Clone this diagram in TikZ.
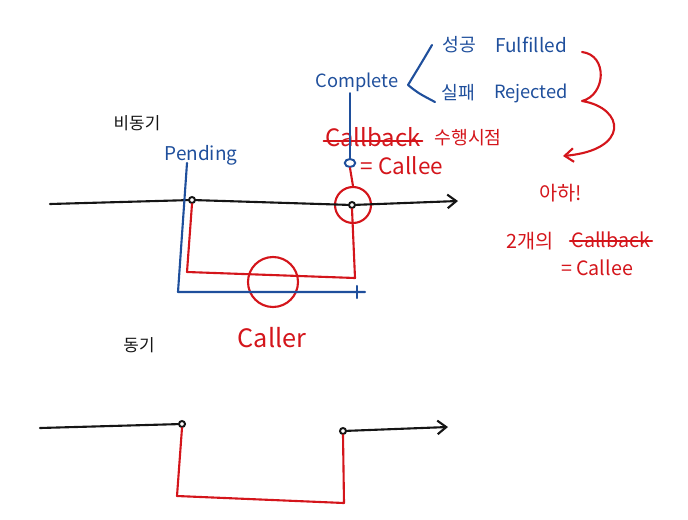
\documentclass[tikz,border=0pt]{standalone}
\usepackage{fontspec}
\setmainfont{Noto Sans CJK KR}
\usetikzlibrary{arrows.meta,positioning,shapes.geometric}
\definecolor{penblue}{HTML}{1F4F9C}
\definecolor{penred}{HTML}{D4151B}
\definecolor{penink}{HTML}{151515}
\tikzset{
  pen/.style={line width=1.5pt, line cap=round, line join=round},
  ink/.style={pen, draw=penink},
  bpen/.style={pen, draw=penblue},
  rpen/.style={pen, draw=penred},
  arr/.style={-{Straight Barb[length=2.2mm, width=3.4mm]}},
  fs/.style={font=\fontsize{#1}{#1}\selectfont, inner sep=1pt},
  knot/.style={circle, draw=penink, line width=1.4pt, inner sep=0pt, minimum size=1.5mm, fill=white},
  ring/.style={circle, draw=penred, line width=1.5pt, inner sep=0pt},
}
\begin{document}
\begin{tikzpicture}[x=0.25mm, y=-0.25mm]
    \useasboundingbox (0,0) rectangle (688,519);
    % labels
    \node[fs=12, text=penink] (async) at (137,123) {비동기};
    \node[fs=12, text=penink] (sync) at (139,345) {동기};
    \node[fs=13.5, text=penblue] (pend) at (201,155) {Pending};
    \node[fs=13, text=penblue] (cmp) at (357,82) {Complete};
    \node[fs=13, text=penblue] (okk) at (459,45) {성공};
    \node[fs=13.5, text=penblue] (ful) at (531,45) {Fulfilled};
    \node[fs=13, text=penblue] (ngk) at (458,93) {실패};
    \node[fs=13, text=penblue] (rej) at (531,93) {Rejected};
    \node[fs=17, text=penred] (cbk) at (373,137) {Callback};
    \node[fs=13, text=penred] (when) at (468,138) {수행시점};
    \node[fs=16, text=penred] (cle) at (402,166) {= Callee};
    \node[fs=18, text=penred] (clr) at (272,338) {Caller};
    \node[fs=14, text=penred] (aha) at (561,193) {아하!};
    \node[fs=14, text=penred] (two) at (530,241) {2개의};
    \node[fs=14, text=penred] (cbk2) at (611,240) {Callback};
    \node[fs=14, text=penred] (cle2) at (597,268) {= Callee};
    \draw[rpen] ([yshift=-0.9mm]cbk.west) -- ([yshift=-0.9mm]cbk.east);
    \draw[rpen] ([yshift=-0.2mm]cbk2.west) -- ([yshift=-0.2mm]cbk2.east);
    % async timeline
    \coordinate (a0) at (50,204);
    \coordinate (a1) at (458,201);
    \node[knot] (pa) at (192,200) {};
    \node[knot] (pb) at (352,205) {};
    \node[ring, minimum size=9mm] (hit) at (353,205) {};
    \node[ring, minimum size=12.5mm] (mid) at (273,282) {};
    \node[ellipse, draw=penblue, line width=1.4pt, minimum width=2.6mm, minimum height=2mm, inner sep=0pt] (cbd) at (350,163) {};
    \draw[ink, arr] (a0) -- (pa) -- (pb) -- (a1);
    \coordinate (b0) at (187,163);
    \coordinate (b1) at (178,292);
    \coordinate (b2) at (365,292);
    \draw[bpen] (b0) -- (b1) -- (b2);
    \draw[bpen] (357,286) -- (357,298);
    \coordinate (r0) at (187,272);
    \coordinate (r1) at (355,278);
    \draw[rpen] (pa.south) -- (r0) -- (r1) -- (pb.south);
    \draw[rpen] (hit.north) -- (cbd.south);
    \draw[bpen] (cbd.north) -- (cbd.north |- cmp.south);
    % complete -> fulfilled / rejected
    \coordinate (k0) at (432,45);
    \coordinate (k1) at (408,85);
    \coordinate (k2) at (435,102);
    \draw[bpen] (k0) .. controls (422,62) .. (k1) .. controls (418,93) .. (k2);
    \coordinate (c0) at (582,52);
    \coordinate (c1) at (582,101);
    \coordinate (c2) at (563,156);
    \draw[rpen, arr] (c0) .. controls (608,55) and (606,95) .. (c1) .. controls (625,108) and (630,150) .. (c2);
    % sync timeline
    \coordinate (s0) at (40,428);
    \coordinate (s1) at (448,427);
    \node[knot] (pc) at (182,424) {};
    \node[knot] (pd) at (343,431) {};
    \draw[ink] (s0) -- (pc);
    \draw[ink, arr] (pd) -- (s1);
    \coordinate (q0) at (177,496);
    \coordinate (q1) at (344,503);
    \draw[rpen] (pc.south) -- (q0) -- (q1) -- (pd.south);
\end{tikzpicture}
\end{document}
